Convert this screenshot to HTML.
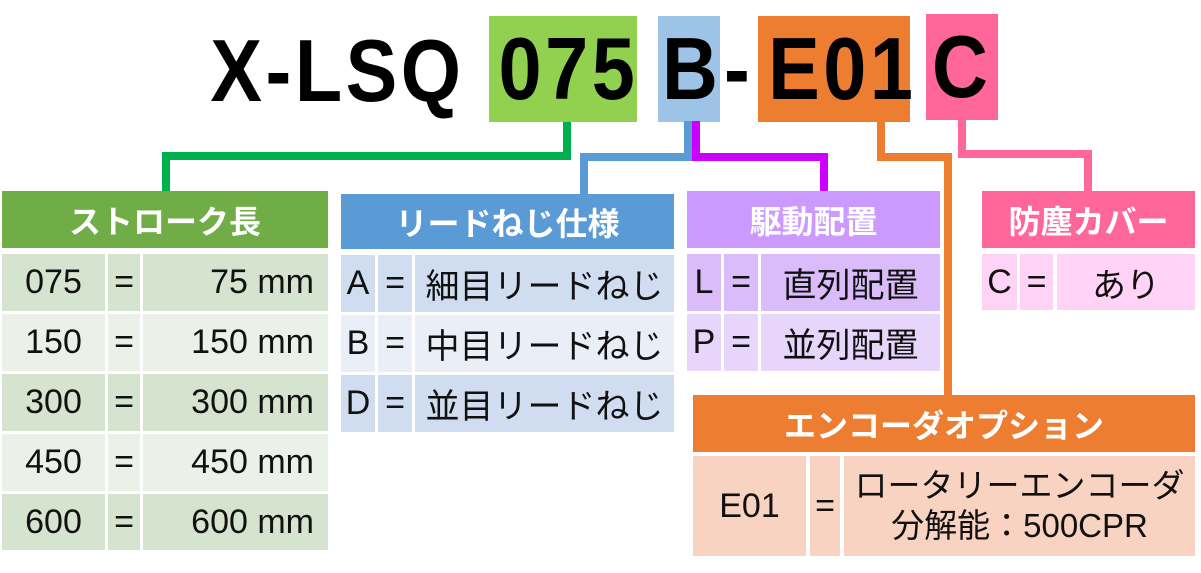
<!DOCTYPE html>
<html><head><meta charset="utf-8"><style>
body{margin:0;width:1201px;height:573px;background:#fff;position:relative;overflow:hidden;font-family:"Liberation Sans","Noto Sans CJK JP",sans-serif;}
div{position:absolute;box-sizing:border-box;white-space:nowrap;}
.t{font-weight:bold;font-size:88px;line-height:106px;color:#000;text-align:center;top:16px;height:106px;}
.t span{display:inline-block;transform:scaleX(0.88);letter-spacing:4px;}
.h{color:#fff;font-weight:bold;font-size:32px;display:flex;align-items:center;justify-content:center;}
.c{font-size:34px;color:#111;display:flex;align-items:center;justify-content:center;}
</style></head><body>
<div class="t" style="left:167px;width:340px;top:18px;"><span>X-LSQ</span></div>
<div class="t" style="left:489px;width:148px;background:#92d050;"><span>075</span></div>
<div class="t" style="left:658px;width:62px;background:#9dc3e6;"><span>B</span></div>
<div class="t" style="left:720px;width:38px;"><span>-</span></div>
<div class="t" style="left:758px;width:152px;background:#ed7d31;"><span>E01</span></div>
<div class="t" style="left:926px;width:72px;background:#ff6699;top:14px;"><span>C</span></div>

<div style="left:563px;top:122px;width:8px;height:38px;background:#00b050"></div>
<div style="left:162px;top:152px;width:409px;height:8px;background:#00b050"></div>
<div style="left:162px;top:152px;width:8px;height:40px;background:#00b050"></div>

<div style="left:684px;top:121px;width:8px;height:40px;background:#5b9bd5"></div>
<div style="left:580px;top:153px;width:112px;height:8px;background:#5b9bd5"></div>
<div style="left:580px;top:153px;width:8px;height:41px;background:#5b9bd5"></div>

<div style="left:692px;top:121px;width:8px;height:40px;background:#cc00ff"></div>
<div style="left:692px;top:153px;width:136px;height:8px;background:#cc00ff"></div>
<div style="left:820px;top:153px;width:8px;height:38px;background:#cc00ff"></div>

<div style="left:877px;top:121px;width:8px;height:40px;background:#ed7d31"></div>
<div style="left:877px;top:153px;width:75px;height:8px;background:#ed7d31"></div>
<div style="left:944px;top:153px;width:8px;height:243px;background:#ed7d31"></div>

<div style="left:958px;top:119px;width:8px;height:39px;background:#ff6699"></div>
<div style="left:958px;top:150px;width:134px;height:8px;background:#ff6699"></div>
<div style="left:1084px;top:150px;width:8px;height:41px;background:#ff6699"></div>

<div class="h" style="left:2px;top:191px;width:326px;height:57px;background:#70ad47">ストローク長</div>
<div class="c" style="left:2px;top:254px;width:103px;height:57px;background:#d5e3cf">075</div>
<div class="c" style="left:108px;top:254px;width:32px;height:57px;background:#d5e3cf">=</div>
<div class="c" style="left:143px;top:254px;width:185px;height:57px;background:#d5e3cf;justify-content:flex-end;padding-right:14px">75 mm</div>
<div class="c" style="left:2px;top:314px;width:103px;height:57px;background:#ebf1e9">150</div>
<div class="c" style="left:108px;top:314px;width:32px;height:57px;background:#ebf1e9">=</div>
<div class="c" style="left:143px;top:314px;width:185px;height:57px;background:#ebf1e9;justify-content:flex-end;padding-right:14px">150 mm</div>
<div class="c" style="left:2px;top:374px;width:103px;height:57px;background:#d5e3cf">300</div>
<div class="c" style="left:108px;top:374px;width:32px;height:57px;background:#d5e3cf">=</div>
<div class="c" style="left:143px;top:374px;width:185px;height:57px;background:#d5e3cf;justify-content:flex-end;padding-right:14px">300 mm</div>
<div class="c" style="left:2px;top:434px;width:103px;height:57px;background:#ebf1e9">450</div>
<div class="c" style="left:108px;top:434px;width:32px;height:57px;background:#ebf1e9">=</div>
<div class="c" style="left:143px;top:434px;width:185px;height:57px;background:#ebf1e9;justify-content:flex-end;padding-right:14px">450 mm</div>
<div class="c" style="left:2px;top:494px;width:103px;height:56px;background:#d5e3cf">600</div>
<div class="c" style="left:108px;top:494px;width:32px;height:56px;background:#d5e3cf">=</div>
<div class="c" style="left:143px;top:494px;width:185px;height:56px;background:#d5e3cf;justify-content:flex-end;padding-right:14px">600 mm</div>

<div class="h" style="left:341px;top:194px;width:333px;height:55px;background:#5b9bd5">リードねじ仕様</div>
<div class="c" style="left:341px;top:255px;width:34px;height:57px;background:#d0dcef">A</div>
<div class="c" style="left:378px;top:255px;width:34px;height:57px;background:#d0dcef">=</div>
<div class="c" style="left:415px;top:255px;width:259px;height:57px;background:#d0dcef">細目リードねじ</div>
<div class="c" style="left:341px;top:315px;width:34px;height:57px;background:#e9eef7">B</div>
<div class="c" style="left:378px;top:315px;width:34px;height:57px;background:#e9eef7">=</div>
<div class="c" style="left:415px;top:315px;width:259px;height:57px;background:#e9eef7">中目リードねじ</div>
<div class="c" style="left:341px;top:375px;width:34px;height:57px;background:#d0dcef">D</div>
<div class="c" style="left:378px;top:375px;width:34px;height:57px;background:#d0dcef">=</div>
<div class="c" style="left:415px;top:375px;width:259px;height:57px;background:#d0dcef">並目リードねじ</div>

<div class="h" style="left:687px;top:191px;width:253px;height:57px;background:#cc99ff">駆動配置</div>
<div class="c" style="left:687px;top:254px;width:34px;height:57px;background:#dbbcfb">L</div>
<div class="c" style="left:724px;top:254px;width:34px;height:57px;background:#dbbcfb">=</div>
<div class="c" style="left:761px;top:254px;width:179px;height:57px;background:#dbbcfb">直列配置</div>
<div class="c" style="left:687px;top:314px;width:34px;height:57px;background:#e8d5fb">P</div>
<div class="c" style="left:724px;top:314px;width:34px;height:57px;background:#e8d5fb">=</div>
<div class="c" style="left:761px;top:314px;width:179px;height:57px;background:#e8d5fb">並列配置</div>

<div class="h" style="left:693px;top:395px;width:502px;height:57px;background:#ed7d31">エンコーダオプション</div>
<div class="c" style="left:693px;top:456px;width:113px;height:100px;background:#f8d3c1">E01</div>
<div class="c" style="left:810px;top:456px;width:30px;height:100px;background:#f8d3c1">=</div>
<div class="c" style="left:844px;top:456px;width:351px;height:100px;background:#f8d3c1;flex-direction:column;line-height:40px;font-size:33px">ロータリーエンコーダ<br><span>分解能：500CPR</span></div>

<div class="h" style="left:982px;top:191px;width:213px;height:57px;background:#ff6699">防塵カバー</div>
<div class="c" style="left:982px;top:254px;width:35px;height:56px;background:#ffd3f5">C</div>
<div class="c" style="left:1020px;top:254px;width:33px;height:56px;background:#ffd3f5">=</div>
<div class="c" style="left:1057px;top:254px;width:138px;height:56px;background:#ffd3f5">あり</div>
</body></html>
